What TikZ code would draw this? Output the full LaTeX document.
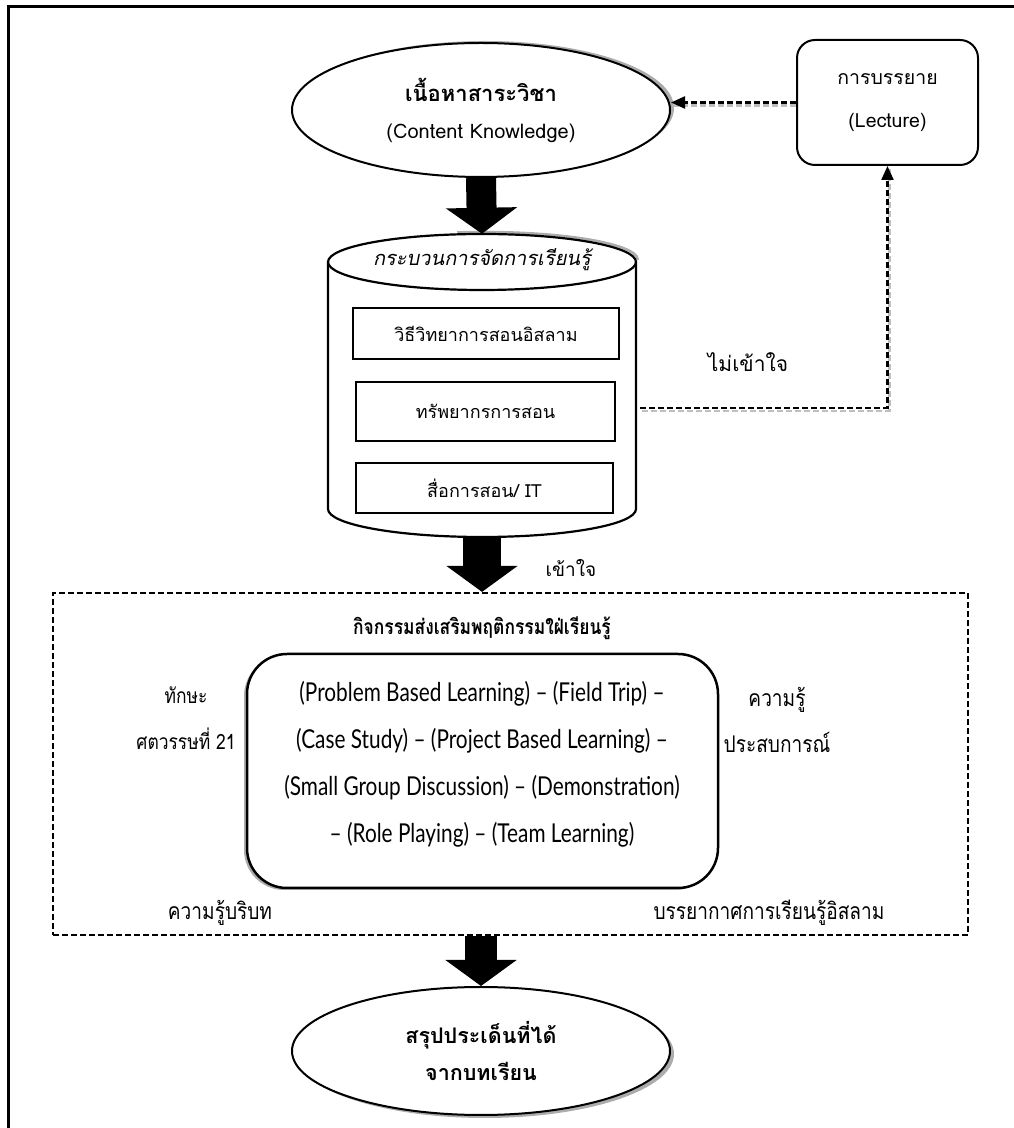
\documentclass[tikz,border=0pt]{standalone}
\usepackage{fontspec}
\setmainfont[Script=Thai]{Loma}
\newfontfamily\slantthai[Script=Thai,FakeSlant=0.2]{Loma}
\newfontfamily\narrowthai[Script=Thai,FakeStretch=0.83]{Loma}
\newfontfamily\narrowlatin[FakeStretch=0.8]{Lato}
\usetikzlibrary{arrows.meta,shapes.geometric,shadows}

\begin{document}
\begin{tikzpicture}[x=1pt,y=1pt,
  every node/.style={font=\fontsize{18pt}{22pt}\selectfont},
  bubble/.style={ellipse, draw, line width=2pt, fill=white, minimum width=378pt, minimum height=134pt, align=center, inner sep=0pt},
  plainbox/.style={draw, line width=1.5pt, fill=white, inner sep=0pt},
  fatarrow/.style={line width=#1, -{Triangle[width=70pt,length=26pt]}},
  dashline/.style={line width=2.2pt, dash pattern=on 6pt off 3pt},
  dashshadow/.style={dashline, gray!50},
  thinhead/.style={-{Triangle[width=12pt,length=14pt]}},
  narrowtext/.style={font=\narrowthai\fontsize{23pt}{46pt}\selectfont, align=center}
]
\useasboundingbox (0,0) rectangle (1014,1128);
\draw[line width=3pt] (8,-4) -- (8,1121) -- (1018,1121);

% content and lecture
\node[bubble, font=\fontsize{20pt}{37pt}\selectfont, drop shadow={shadow xshift=4pt, shadow yshift=2pt, fill=gray!65, opacity=1}] (content) at (481,1018) {{\fontsize{22pt}{22pt}\selectfont\bfseries เนื้อหาสาระวิชา}\\(Content Knowledge)};
\node[draw, line width=2pt, rounded corners=18pt, minimum width=181pt, minimum height=125pt, align=center, font=\fontsize{19.5pt}{43pt}\selectfont] (lecture) at (887.5,1025.5) {การบรรยาย\\(Lecture)};

% the cylinder
\node[minimum width=308pt, minimum height=303pt, inner sep=0pt] (proc) at (482,742.5) {};
\draw[gray!65, line width=2.5pt, shift={(2pt,2pt)}] (636,866) arc[start angle=0, end angle=100, x radius=154, y radius=28];
\draw[line width=2.2pt, fill=white] (328,866) -- (328,619) arc[start angle=180, end angle=360, x radius=154, y radius=28] -- (636,866) arc[start angle=0, end angle=180, x radius=154, y radius=28] -- cycle;
\draw[line width=2.2pt] (328,866) arc[start angle=180, end angle=360, x radius=154, y radius=28];
\node[font=\slantthai\fontsize{20pt}{22pt}\selectfont] (proctitle) at (482,868) {กระบวนการจัดการเรียนรู้};
\node[plainbox, minimum width=266pt, minimum height=51pt] (islam) at (486,794.5) {วิธีวิทยาการสอนอิสลาม};
\node[plainbox, minimum width=259pt, minimum height=59pt] (resource) at (485.5,716.5) {ทรัพยากรการสอน};
\node[plainbox, minimum width=257pt, minimum height=50pt] (media) at (484.5,640) {สื่อการสอน/ IT};

% back to the lecture
\coordinate (miss) at (640,720);
\draw[dashshadow, transform canvas={xshift=2pt,yshift=-3pt}] (miss) -| (lecture.south);
\draw[dashline, thinhead] (miss) -| (lecture.south);
\draw[dashshadow, transform canvas={yshift=-3pt}] (lecture.west) -- (lecture.west -| content.east);
\draw[dashline, thinhead] (lecture.west) -- (lecture.west -| content.east);
\node[font=\fontsize{21pt}{22pt}\selectfont] (nomiss) at (748,766) {ไม่เข้าใจ};
\node[font=\fontsize{19pt}{22pt}\selectfont] (gotit) at (571,560) {เข้าใจ};

% activities
\node[draw, dashline, minimum width=915pt, minimum height=342pt] (activity) at (510.5,364) {};
\node[font=\narrowthai\bfseries\fontsize{21pt}{22pt}\selectfont] (acttitle) at (482,500) {กิจกรรมส่งเสริมพฤติกรรมใฝ่เรียนรู้};
\node[draw, line width=2.5pt, fill=white, rounded corners=40pt, minimum width=471pt, minimum height=234pt, drop shadow={shadow xshift=-3pt, shadow yshift=-2pt, fill=gray!65, opacity=1}] (methods) at (482.5,357) {};
\node[align=center, font=\narrowlatin\fontsize{26pt}{47pt}\selectfont] (methodlist) at (482,364) {(Problem Based Learning) – (Field Trip) –\\(Case Study) – (Project Based Learning) –\\(Small Group Discussion) – (Demonstration)\\– (Role Playing) – (Team Learning)};
\node[narrowtext, font=\narrowthai\fontsize{21pt}{46pt}\selectfont] (skill) at (186,410) {ทักษะ\\ศตวรรษที่ 21};
\node[narrowtext] (experience) at (777,408) {ความรู้\\ประสบการณ์};
\node[narrowtext] (context) at (220,215) {ความรู้บริบท};
\node[narrowtext] (climate) at (769,215) {บรรยากาศการเรียนรู้อิสลาม};

% summary
\node[bubble, minimum height=128pt, font=\bfseries\fontsize{21.5pt}{37pt}\selectfont, drop shadow={shadow xshift=4pt, shadow yshift=-3pt, fill=gray!65, opacity=1}] (summary) at (481,77) {สรุปประเด็นที่ได้\\จากบทเรียน};

% big arrows
\draw[fatarrow=30pt] (content.south) -- (proc.north);
\draw[fatarrow=38pt] (proc.south) -- (proc.south |- activity.north);
\draw[fatarrow=32pt] (activity.south -| summary.north) -- (summary.north);
\end{tikzpicture}
\end{document}
